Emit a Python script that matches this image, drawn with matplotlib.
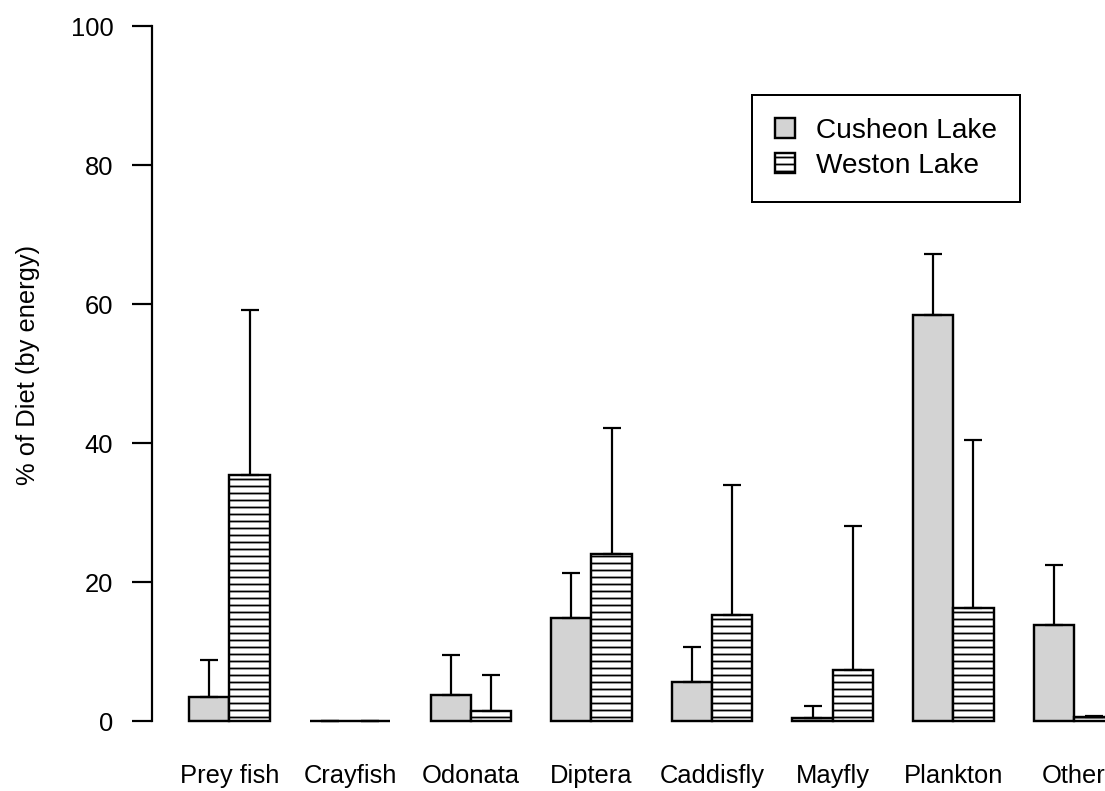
import numpy as np
import matplotlib
matplotlib.use("Agg")
import matplotlib.pyplot as plt

# diet composition (% by energy), mean and upper error
categories = ["Prey fish", "Crayfish", "Odonata", "Diptera",
              "Caddisfly", "Mayfly", "Plankton", "Other"]
cusheon_mean = [3.4, 0.0, 3.7, 14.8, 5.6, 0.4, 58.4, 13.8]
cusheon_err = [5.4, 0.0, 5.8, 6.5, 5.0, 1.7, 8.8, 8.6]
weston_mean = [35.4, 0.0, 1.5, 24.0, 15.2, 7.4, 16.3, 0.5]
weston_err = [23.7, 0.0, 5.1, 18.1, 18.8, 20.6, 24.1, 0.2]

DPI = 84
PT = 72 / DPI  # points per pixel
FS = 25.5 * PT
LW = 2.4 * PT

plt.rcParams["font.family"] = ["Liberation Sans", "DejaVu Sans"]
plt.rcParams["hatch.linewidth"] = 1.8 * PT
plt.rcParams["hatch.color"] = "black"

fig = plt.figure(figsize=(1105.4 / DPI, 791.4 / DPI), dpi=DPI)
ax = fig.add_axes([152.2 / 1105, (791 - 748.8) / 791, 998.6 / 1105, 750.6 / 791])

n = len(categories)
groups = np.arange(n) * 3
x_c = groups + 1.5
x_w = groups + 2.5

ax.bar(x_c, cusheon_mean, width=1, color="#d3d3d3", edgecolor="black",
       linewidth=LW, label="Cusheon Lake")
ax.bar(x_w, weston_mean, width=1, color="white", edgecolor="black",
       hatch="--", linewidth=LW, label="Weston Lake")

zeros = np.zeros(n)
ax.errorbar(x_c, cusheon_mean, yerr=[zeros, cusheon_err], fmt="none",
            ecolor="black", elinewidth=2.2 * PT, capsize=9 * PT, capthick=2.2 * PT)
ax.errorbar(x_w, weston_mean, yerr=[zeros, weston_err], fmt="none",
            ecolor="black", elinewidth=2.2 * PT, capsize=9 * PT, capthick=2.2 * PT)

ax.set_xlim(0.08, 24.92)
ax.set_ylim(-4, 104)

for side in ["top", "right", "bottom"]:
    ax.spines[side].set_visible(False)
ax.spines["left"].set_bounds(0, 100)
ax.spines["left"].set_linewidth(2.2 * PT)

ax.set_yticks([0, 20, 40, 60, 80, 100])
ax.tick_params(axis="y", length=20 * PT, width=2.2 * PT, pad=19 * PT, labelsize=FS)
ax.set_xticks(groups + 2, categories)
ax.tick_params(axis="x", length=0, pad=15 * PT, labelsize=FS)

ax.set_ylabel("% of Diet (by energy)", fontsize=FS)
ax.yaxis.set_label_coords((40 - 152.2) / 998.6, (748.8 - 365) / 750.6)

leg = ax.legend(loc="upper left", bbox_to_anchor=(752 / 1105, 1 - 95 / 791),
                bbox_transform=fig.transFigure, borderaxespad=0,
                fancybox=False, edgecolor="black", framealpha=1,
                fontsize=28 * PT, handlelength=0.72, handleheight=0.72,
                handletextpad=0.75, borderpad=0.82, labelspacing=0.33)
leg.get_frame().set_linewidth(2 * PT)

fig.savefig("out.png", dpi=DPI)
